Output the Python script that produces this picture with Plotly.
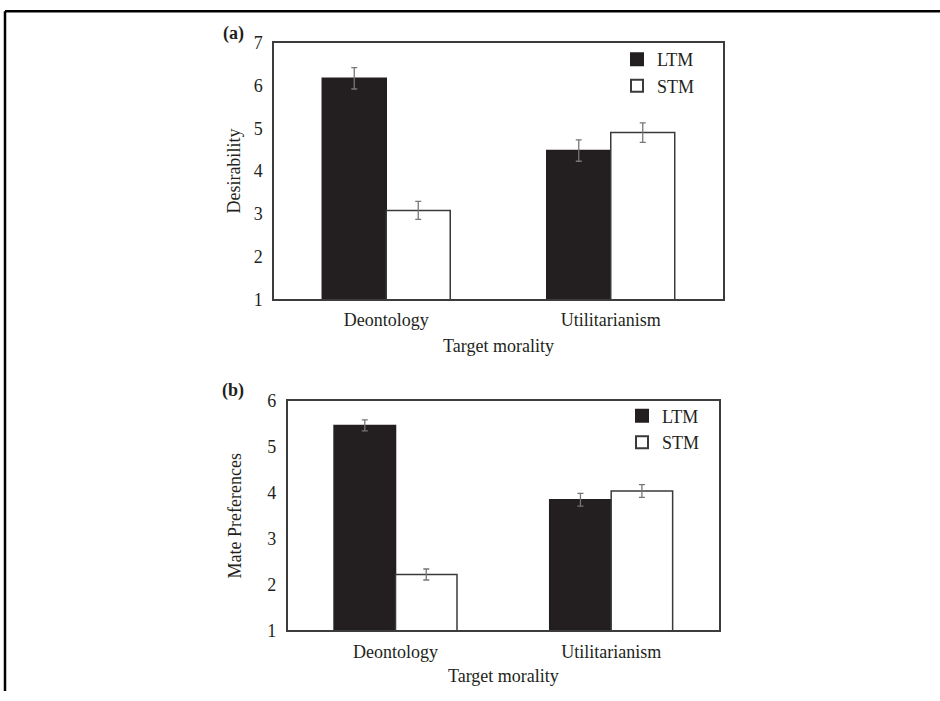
import plotly.graph_objects as go

categories = ["Deontology", "Utilitarianism"]
series_names = ["LTM", "STM"]

# Panel (a): Desirability
desir_ltm = [6.17, 4.48]
desir_stm = [3.08, 4.90]
desir_ltm_err = [0.25, 0.25]
desir_stm_err = [0.21, 0.23]

# Panel (b): Mate Preferences
mate_ltm = [5.47, 3.85]
mate_stm = [2.22, 4.04]
mate_ltm_err = [0.12, 0.14]
mate_stm_err = [0.12, 0.14]

W, H = 940, 701
FONT = "Liberation Serif"
TXT = "#231f20"
DARK = "#231f20"
ERR = "#767676"

# vertical calibration of the rendered page (observed offset/scale)
V_OFF, V_SC = 9.1, 0.9733


def px(x):
    return x / W


def py(y):
    ys = (y - V_OFF) / V_SC
    return min(1.0, max(0.0, (H - ys) / H))


fig = go.Figure()


def add_bars(xa, ya, ltm, stm, ltm_err, stm_err, legend):
    fig.add_trace(go.Bar(
        x=categories, y=ltm, name=series_names[0], xaxis=xa, yaxis=ya,
        marker=dict(color=DARK, line=dict(color=DARK, width=1.5)),
        error_y=dict(type="data", array=ltm_err, color=ERR, thickness=1.3, width=3),
        legend=legend,
    ))
    fig.add_trace(go.Bar(
        x=categories, y=stm, name=series_names[1], xaxis=xa, yaxis=ya,
        marker=dict(color="white", line=dict(color="#3a3a3a", width=1.5)),
        error_y=dict(type="data", array=stm_err, color=ERR, thickness=1.3, width=3),
        legend=legend,
    ))


add_bars("x", "y", desir_ltm, desir_stm, desir_ltm_err, desir_stm_err, "legend")
add_bars("x2", "y2", mate_ltm, mate_stm, mate_ltm_err, mate_stm_err, "legend2")

axis_common = dict(showline=True, mirror=True, linecolor="#3c3c3c", linewidth=1.5,
                   showgrid=False, zeroline=False, ticks="",
                   tickfont=dict(family=FONT, size=18, color=TXT))
title_font = dict(family=FONT, size=18, color=TXT)

fig.update_layout(
    width=W, height=H,
    margin=dict(l=0, r=0, t=0, b=0),
    paper_bgcolor="white", plot_bgcolor="white",
    font=dict(family=FONT, size=18, color=TXT),
    barmode="group", bargap=0.43, bargroupgap=0,
    xaxis=dict(domain=[px(274), px(723)], anchor="y",
               title=dict(text="Target morality", standoff=11, font=title_font),
               ticklabelstandoff=3, **axis_common),
    yaxis=dict(domain=[py(299), py(42)], anchor="x", range=[1, 7], dtick=1,
               title=dict(text="Desirability", standoff=8, font=title_font),
               ticklabelstandoff=6, **axis_common),
    xaxis2=dict(domain=[px(287.7), px(719)], anchor="y2",
                title=dict(text="Target morality", standoff=9, font=title_font),
                ticklabelstandoff=4, **axis_common),
    yaxis2=dict(domain=[py(630.7), py(401)], anchor="x2", range=[1, 6], dtick=1,
                title=dict(text="Mate Preferences", standoff=21, font=title_font),
                ticklabelstandoff=6, **axis_common),
    legend=dict(x=px(617), y=py(40.3), xanchor="left", yanchor="top",
                bgcolor="rgba(0,0,0,0)", font=dict(family=FONT, size=18, color=TXT),
                tracegroupgap=0, itemsizing="constant"),
    legend2=dict(x=px(622), y=py(397.5), xanchor="left", yanchor="top",
                 bgcolor="rgba(0,0,0,0)", font=dict(family=FONT, size=18, color=TXT),
                 tracegroupgap=0, itemsizing="constant"),
    annotations=[
        dict(text="<b>(a)</b>", x=px(233), y=py(33), xref="paper", yref="paper",
             xanchor="center", yanchor="middle",
             showarrow=False, font=dict(family=FONT, size=18, color=TXT)),
        dict(text="<b>(b)</b>", x=px(233), y=py(390.7), xref="paper", yref="paper",
             xanchor="center", yanchor="middle",
             showarrow=False, font=dict(family=FONT, size=18, color=TXT)),
    ],
    shapes=[
        dict(type="line", xref="paper", yref="paper", x0=px(5), x1=1, y0=1 - 1.3 / H, y1=1 - 1.3 / H,
             line=dict(color="black", width=2.5)),
        dict(type="line", xref="paper", yref="paper", x0=px(5), x1=px(5), y0=1 - 1.3 / H, y1=0,
             line=dict(color="black", width=2.5)),
    ],
)

fig.write_html(
    "out.html",
    config={"displayModeBar": False},
    post_script="document.body.style.margin='0';",
)
